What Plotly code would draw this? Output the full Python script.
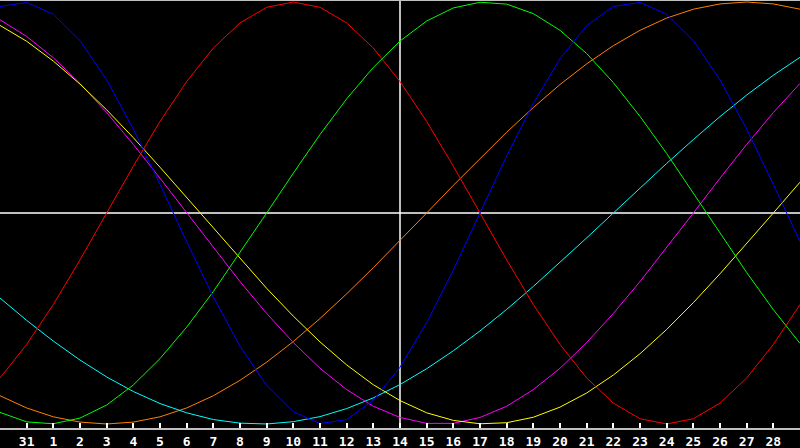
import plotly.graph_objects as go

# day labels under the ticks (index 1..29), index 15 is "today"
day_labels = ["31"] + [str(d) for d in range(1, 29)]
days = list(range(0, 31))
today = 15

physical = [0.979, 0.998, 0.942, 0.817, 0.631, 0.398, 0.136, -0.136, -0.398, -0.631,
            -0.817, -0.942, -0.998, -0.979, -0.888, -0.731, -0.520, -0.270, 0.0, 0.270,
            0.520, 0.731, 0.888, 0.979, 0.998, 0.942, 0.817, 0.631, 0.398, 0.136, -0.136]
emotional = [-0.782, -0.623, -0.434, -0.222, 0.0, 0.222, 0.434, 0.623, 0.782, 0.901,
             0.975, 1.0, 0.975, 0.901, 0.782, 0.623, 0.434, 0.222, 0.0, -0.222,
             -0.434, -0.623, -0.782, -0.901, -0.975, -1.0, -0.975, -0.901, -0.782, -0.623, -0.434]
intellectual = [-0.945, -0.990, -0.999, -0.972, -0.910, -0.815, -0.690, -0.541, -0.372, -0.189,
                0.0, 0.189, 0.372, 0.541, 0.690, 0.815, 0.910, 0.972, 0.999, 0.990,
                0.945, 0.866, 0.756, 0.618, 0.458, 0.282, 0.095, -0.095, -0.282, -0.458, -0.618]
intuitive = [0.916, 0.837, 0.736, 0.614, 0.476, 0.325, 0.165, 0.0, -0.165, -0.325,
             -0.476, -0.614, -0.736, -0.837, -0.916, -0.969, -0.997, -0.997, -0.969, -0.916,
             -0.837, -0.736, -0.614, -0.476, -0.325, -0.165, 0.0, 0.165, 0.325, 0.476, 0.614]
aesthetic = [0.889, 0.814, 0.720, 0.611, 0.489, 0.357, 0.217, 0.073, -0.073, -0.217,
             -0.357, -0.489, -0.611, -0.720, -0.814, -0.889, -0.947, -0.983, -0.999, -0.994,
             -0.968, -0.920, -0.853, -0.768, -0.667, -0.552, -0.425, -0.288, -0.146, 0.0, 0.146]
awareness = [-0.866, -0.924, -0.966, -0.991, -1.0, -0.991, -0.966, -0.924, -0.866, -0.793,
             -0.707, -0.609, -0.5, -0.383, -0.259, -0.131, 0.0, 0.131, 0.259, 0.383,
             0.5, 0.609, 0.707, 0.793, 0.866, 0.924, 0.966, 0.991, 1.0, 0.991, 0.966]
spiritual = [-0.403, -0.509, -0.607, -0.697, -0.777, -0.846, -0.903, -0.947, -0.979, -0.996,
             -1.0, -0.989, -0.965, -0.927, -0.876, -0.813, -0.738, -0.653, -0.559, -0.457,
             -0.348, -0.235, -0.118, 0.0, 0.118, 0.235, 0.348, 0.457, 0.559, 0.653, 0.738]

series = [
    ("awareness", awareness, "#ff8000"),
    ("spiritual", spiritual, "#00ffff"),
    ("intuitive", intuitive, "#ff00ff"),
    ("aesthetic", aesthetic, "#ffff00"),
    ("intellectual", intellectual, "#00ff00"),
    ("emotional", emotional, "#ff0000"),
    ("physical", physical, "#0000ff"),
]

fig = go.Figure()

for name, vals, col in series:
    fig.add_trace(go.Scatter(x=days, y=vals, mode="lines", name=name,
                             line=dict(color=col, width=1)))

# cross hair: zero line and today
fig.add_shape(type="line", xref="x", yref="y", x0=0, x1=30, y0=0, y1=0,
              line=dict(color="white", width=1.5), layer="below")
fig.add_shape(type="line", xref="x", yref="paper", x0=today, x1=today, y0=0, y1=1,
              line=dict(color="white", width=1.5), layer="below")

fig.update_layout(
    width=800, height=448,
    margin=dict(l=0, r=0, t=0, b=20),
    paper_bgcolor="black",
    plot_bgcolor="black",
    showlegend=False,
    xaxis=dict(range=[0, 30], showgrid=False, zeroline=False,
               showline=True, linecolor="#c0c0c0", linewidth=2, mirror=False,
               tickvals=list(range(1, 30)), ticktext=day_labels,
               ticks="inside", ticklen=5, tickwidth=1.5, tickcolor="white",
               tickfont=dict(family="DejaVu Sans Mono", size=13, color="white", weight="bold")),
    yaxis=dict(range=[-1.019, 1.0096], showgrid=False, zeroline=False,
               showline=True, linecolor="#c0c0c0", linewidth=2,
               showticklabels=False, ticks=""),
)

# top border
fig.add_shape(type="line", xref="paper", yref="paper", x0=0, x1=1, y0=1, y1=1,
              line=dict(color="#c0c0c0", width=2))

fig.write_html("out.html", config={"displayModeBar": False},
               post_script="document.body.style.margin='0';document.body.style.overflow='hidden';")
